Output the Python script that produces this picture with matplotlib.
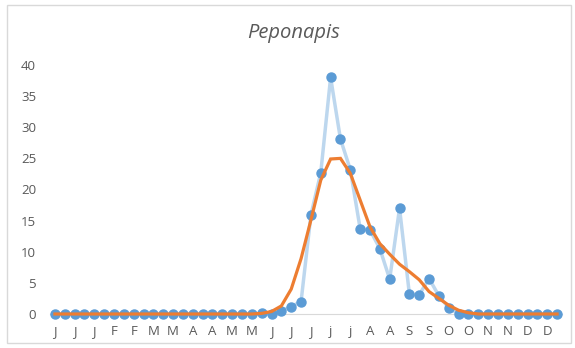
import numpy as np
import matplotlib.pyplot as plt
from matplotlib.patches import Rectangle

# weekly counts (52 weeks), labels shown on every second week
week_labels = ['J', 'J', 'J', 'F', 'F', 'M', 'M', 'A', 'A', 'M', 'M', 'J', 'J',
               'J', 'j', 'j', 'A', 'A', 'S', 'S', 'O', 'O', 'N', 'N', 'D', 'D']
counts = [0]*21 + [0.1, 0, 0.5, 1.2, 2.0, 15.9, 22.7, 38.0, 28.1, 23.2, 13.7,
                   13.5, 10.5, 5.6, 17.0, 3.2, 3.1, 5.7, 2.9, 1.0, 0] + [0]*10
smooth = [0]*21 + [0.1, 0.4, 1.3, 4.0, 8.9, 15.1, 21.5, 24.9, 25.0, 22.6, 18.3,
                   14.0, 11.3, 9.6, 8.0, 6.8, 5.5, 3.6, 2.5, 1.4, 0.6, 0.2] + [0]*9

blue_line = '#bdd7ee'
blue_mark = '#5b9bd5'
orange = '#ed7d31'
grey_txt = '#595959'

plt.rcParams['font.family'] = ['Open Sans', 'DejaVu Sans']

fig = plt.figure(figsize=(5.75, 3.48), dpi=100)
fig.patches.append(Rectangle((7/575, 5/348), 564/575, 338/348,
                             transform=fig.transFigure, fill=False,
                             edgecolor='#d9d9d9', linewidth=1))

ax = fig.add_axes([50/575, 34/348, 512/575, 249/348])
x = np.arange(len(counts))

ax.plot(x, counts, color=blue_line, linewidth=2.5, zorder=2, clip_on=False)
ax.plot(x, counts, linestyle='none', marker='o', markersize=6.5,
        color=blue_mark, zorder=3, clip_on=False)
ax.plot(x, smooth, color=orange, linewidth=2.3, zorder=4, clip_on=False,
        solid_joinstyle='miter')

ax.set_xlim(-0.5, len(counts) - 0.5)
ax.set_ylim(0, 40)
ax.set_yticks(np.arange(0, 41, 5))
ax.set_xticks(x[::2])
ax.set_xticklabels(week_labels)

for s in ['top', 'right', 'left']:
    ax.spines[s].set_visible(False)
ax.spines['bottom'].set_color('#d9d9d9')
ax.tick_params(length=0, labelsize=9.5, colors=grey_txt)
ax.tick_params(axis='y', pad=10)
ax.tick_params(axis='x', pad=8)

fig.text(0.511, 0.905, 'Peponapis', ha='center', va='center',
         fontsize=14.5, style='italic', color=grey_txt)

fig.savefig('out.png', dpi=100)
